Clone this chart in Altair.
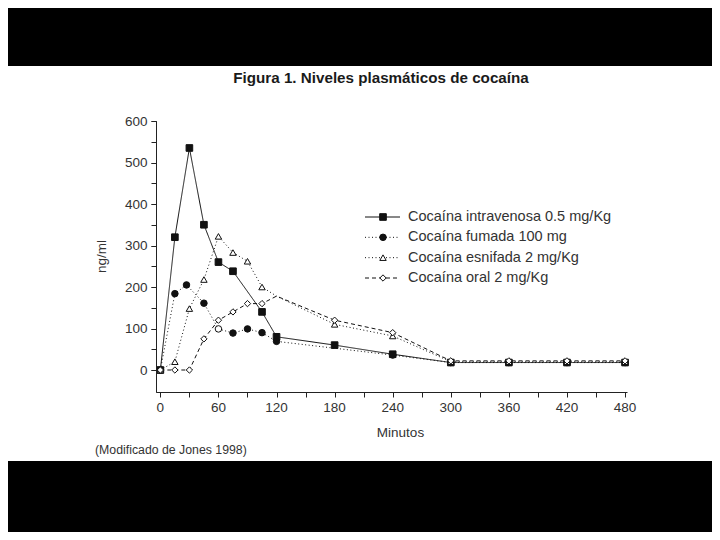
import altair as alt
import pandas as pd

TITLE = "Figura 1. Niveles plasmáticos de cocaína"
FOOTER = "(Modificado de Jones 1998)"
X_TITLE = "Minutos"
Y_TITLE = "ng/ml"

series_labels = [
    "Cocaína intravenosa 0.5 mg/Kg",
    "Cocaína fumada 100 mg",
    "Cocaína esnifada 2 mg/Kg",
    "Cocaína oral 2 mg/Kg",
]

# Intravenous
iv_t = [0, 15, 30, 45, 60, 75, 105, 120, 180, 240, 300, 360, 420, 480]
iv_v = [0, 320, 535, 350, 260, 238, 140, 80, 60, 38, 18, 18, 18, 18]
iv_marker = [1] * len(iv_t)
iv_filled = [1] * len(iv_t)

# Smoked
sm_t = [0, 15, 27, 45, 60, 75, 90, 105, 120, 240, 300, 360, 420, 480]
sm_v = [0, 184, 205, 161, 99, 89, 99, 90, 69, 36, 18, 18, 18, 18]
sm_marker = [1] * len(sm_t)
sm_filled = [1, 1, 1, 1, 0, 1, 1, 1, 1, 1, 1, 1, 1, 1]

# Snorted
sn_t = [0, 15, 30, 45, 60, 75, 90, 105, 120, 180, 240, 300, 360, 420, 480]
sn_v = [0, 20, 148, 218, 322, 283, 262, 200, 178, 110, 82, 20, 20, 20, 20]
sn_marker = [1, 1, 1, 1, 1, 1, 1, 1, 0, 1, 1, 1, 1, 1, 1]
sn_filled = [0] * len(sn_t)

# Oral
or_t = [0, 15, 30, 45, 60, 75, 90, 105, 120, 180, 240, 300, 360, 420, 480]
or_v = [0, 0, 0, 75, 120, 140, 160, 160, 178, 120, 90, 22, 22, 22, 22]
or_marker = [1, 1, 1, 1, 1, 1, 1, 1, 0, 1, 1, 1, 1, 1, 1]
or_filled = [0] * len(or_t)

x_labels = list(range(0, 481, 60))
x_minor = list(range(0, 481, 30))
y_labels = list(range(0, 601, 100))
y_minor = list(range(0, 601, 50))

rows = []
for name, ts, vs, mk, fl in [
    (series_labels[0], iv_t, iv_v, iv_marker, iv_filled),
    (series_labels[1], sm_t, sm_v, sm_marker, sm_filled),
    (series_labels[2], sn_t, sn_v, sn_marker, sn_filled),
    (series_labels[3], or_t, or_v, or_marker, or_filled),
]:
    for i, (t, v) in enumerate(zip(ts, vs)):
        rows.append(dict(series=name, t=t, v=v, i=i, marker=mk[i],
                         fill="#111111" if fl[i] else "white"))
df = pd.DataFrame(rows)

legend_df = pd.DataFrame({
    "series": series_labels,
    "row": list(range(len(series_labels))),
    "fill": ["#111111", "#111111", "white", "white"],
})
xlab_df = pd.DataFrame({"t": x_labels, "lab": [str(v) for v in x_labels]})

FONT = "Liberation Sans"
TXT = "#333333"
INK = "#111111"

xscale = alt.Scale(domain=[-4.5, 482], nice=False, zero=False)
yscale = alt.Scale(domain=[-53, 600], nice=False, zero=False)
dash_scale = alt.Scale(domain=series_labels, range=[[1, 0], [1, 2.5], [1, 2.5], [4, 3]])
shape_scale = alt.Scale(domain=series_labels, range=["square", "circle", "triangle-up", "diamond"])
size_scale = alt.Scale(domain=series_labels, range=[44, 40, 105, 75])
ly_scale = alt.Scale(domain=[0, 3], range=[96, 157])

# axes drawn by the line layer (x labels are drawn by a text layer below)
x_axis = alt.Axis(values=x_minor, labels=False, orient="bottom",
                  title=X_TITLE, titleX=244, titleY=40, titleBaseline="middle",
                  titleAlign="center", zindex=2)
y_axis = alt.Axis(values=y_labels, labelOverlap=False, orient="left",
                  title=Y_TITLE, titleX=-55, titleY=135, titleBaseline="middle",
                  titleAlign="center", titleAngle=270, zindex=2)
y_axis_minor = alt.Axis(values=y_minor, labels=False, title=None, orient="left", zindex=2)

one = pd.DataFrame({"a": [0]})

panel = alt.Chart(one).mark_rect(color="white").encode(
    x=alt.value(-156), x2=alt.value(562), y=alt.value(-55), y2=alt.value(340)
)

lines = alt.Chart(df).mark_line(color=INK, strokeWidth=1).encode(
    x=alt.X("t:Q", scale=xscale, axis=x_axis),
    y=alt.Y("v:Q", scale=yscale, axis=y_axis),
    detail="series:N",
    strokeDash=alt.StrokeDash("series:N", scale=dash_scale, legend=None),
    order="i:Q",
)

points = alt.Chart(df).transform_filter("datum.marker == 1").mark_point(
    filled=True, stroke=INK, strokeWidth=1, opacity=1, fillOpacity=1
).encode(
    x=alt.X("t:Q", scale=xscale, axis=None),
    y=alt.Y("v:Q", scale=yscale, axis=y_axis_minor),
    shape=alt.Shape("series:N", scale=shape_scale, legend=None),
    size=alt.Size("series:N", scale=size_scale, legend=None),
    fill=alt.Fill("fill:N", scale=None),
)

xlabels = alt.Chart(xlab_df).mark_text(
    align="center", baseline="top", font=FONT, fontSize=13.5, color=TXT
).encode(
    x=alt.X("t:Q", scale=xscale, axis=None),
    y=alt.value(280),
    text="lab:N",
)

leg_lines = alt.Chart(legend_df).mark_rule(color=INK, strokeWidth=1).encode(
    x=alt.value(209), x2=alt.value(244),
    y=alt.Y("row:Q", scale=ly_scale, axis=None),
    strokeDash=alt.StrokeDash("series:N", scale=dash_scale, legend=None),
)
leg_pts = alt.Chart(legend_df).mark_point(
    filled=True, stroke=INK, strokeWidth=1, opacity=1, fillOpacity=1
).encode(
    x=alt.value(227),
    y=alt.Y("row:Q", scale=ly_scale, axis=None),
    shape=alt.Shape("series:N", scale=shape_scale, legend=None),
    size=alt.Size("series:N", scale=size_scale, legend=None),
    fill=alt.Fill("fill:N", scale=None),
)
leg_txt = alt.Chart(legend_df).mark_text(
    align="left", baseline="middle", font=FONT, fontSize=14.5, color=TXT
).encode(
    x=alt.value(252),
    y=alt.Y("row:Q", scale=ly_scale, axis=None),
    text="series:N",
)

title = alt.Chart(pd.DataFrame({"txt": [TITLE]})).mark_text(
    align="center", baseline="middle", font=FONT, fontSize=15.2, fontWeight="bold", color="#1a1a1a"
).encode(x=alt.value(225), y=alt.value(-43), text="txt:N")

footer = alt.Chart(pd.DataFrame({"txt": [FOOTER]})).mark_text(
    align="left", baseline="middle", font=FONT, fontSize=12.3, color=TXT
).encode(x=alt.value(-61), y=alt.value(329), text="txt:N")

chart = alt.layer(
    panel, lines, points, xlabels, leg_lines, leg_pts, leg_txt, title, footer
).resolve_scale(y="independent").resolve_axis(x="independent", y="independent").properties(
    width=471, height=271,
    autosize=alt.AutoSizeParams(type="none"),
    padding={"left": 148, "top": 113, "right": 85, "bottom": 140},
    background="black",
).configure_view(stroke=None).configure_axis(
    grid=False, domainColor="#222222", tickColor="#222222", labelColor=TXT,
    labelFont=FONT, labelFontSize=13.5, titleFont=FONT, titleFontSize=13.5,
    titleFontWeight="normal", titleColor=TXT, tickSize=5, labelPadding=4,
    domainWidth=1, tickWidth=1, labelOverlap=False,
)

chart.save("out.html", embed_options={"renderer": "svg", "actions": False})
